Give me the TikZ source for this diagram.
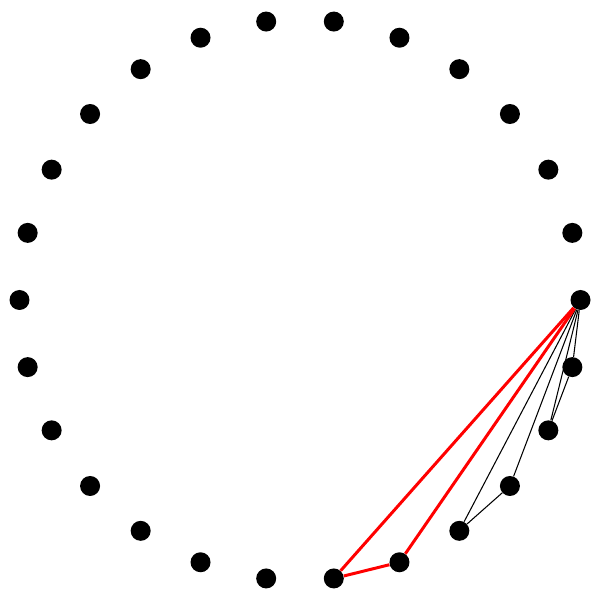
\documentclass[tikz,border=0pt]{standalone}
\usepackage{tikz}
\usetikzlibrary{calc}

\begin{document}
\begin{tikzpicture}[
    vertex/.style={circle, fill=black, inner sep=0pt, minimum size=0.4cm},
    plain/.style={line width=0.6pt},
    hot/.style={red, line width=1.7pt}]
    \useasboundingbox (0,0) rectangle (12,12);
    \coordinate (C) at (6,6);

    \foreach \i in {0,...,25}
        \node[vertex] (v\i) at ($(C)+({-\i*360/26}:5.61)$) {};

    \draw[plain] (v0) -- (v1);
    \draw[plain] (v0) -- (v2);
    \draw[plain] (v0) -- (v3);
    \draw[plain] (v0) -- (v4);
    \draw[plain] (v1) -- (v2);
    \draw[plain] (v3) -- (v4);

    \draw[hot] (v0) -- (v5);
    \draw[hot] (v0) -- (v6);
    \draw[hot] (v5) -- (v6);
\end{tikzpicture}
\end{document}
